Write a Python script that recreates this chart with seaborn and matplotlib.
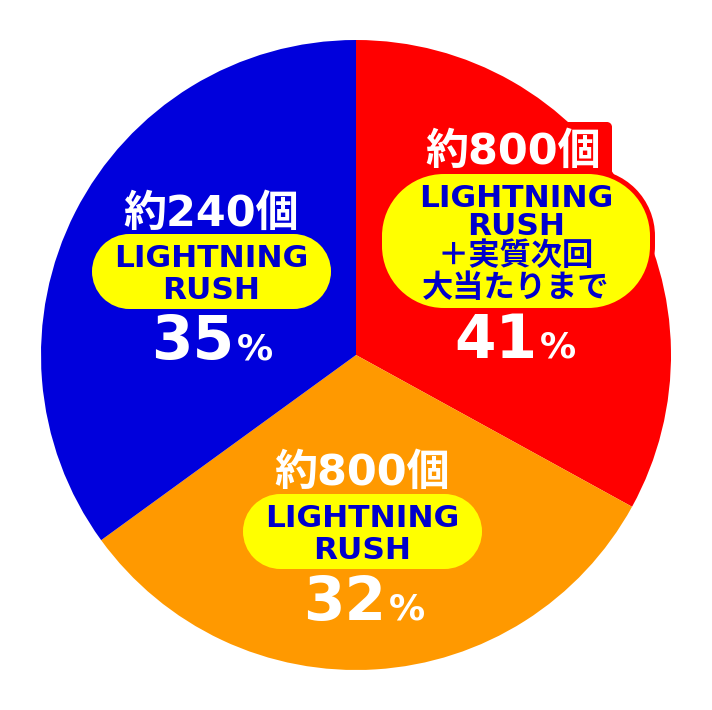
import matplotlib
matplotlib.use("Agg")
import matplotlib.pyplot as plt
from matplotlib.patches import PathPatch
from matplotlib.path import Path
import seaborn as sns

# ------------------------------------------------------------------
# Données
# ------------------------------------------------------------------
# ordre : rouge (haut-droite), orange (bas), bleu (gauche), sens horaire depuis 12h
parts = [33, 32, 35]                       # taille des secteurs dessinés
pourcentages = ["41", "32", "35"]          # texte affiché
nombres = ["約800個", "約800個", "約240個"]
etiquettes = [
    ["LIGHTNING", "RUSH", "＋実質次回", "大当たりまで"],
    ["LIGHTNING", "RUSH"],
    ["LIGHTNING", "RUSH"],
]
couleurs = ["#FF0000", "#FF9900", "#0000DC"]

# ------------------------------------------------------------------
# Mise en page (pixels, y compté depuis le haut)
# ------------------------------------------------------------------
W, H = 712, 710
CENTRE = (356, 355)
RAYON = 315
JAUNE = "#FFFF00"
BLEU_TXT = "#0000CC"
POLICE = ["DejaVu Sans", "Noto Sans CJK JP"]

# par secteur : x du titre, baseline titre, bulle jaune (x0, y0, x1, y1, arrondi),
# baselines des lignes, x et baseline du pourcentage
dispo = [
    dict(cx=513, titre_y=164, boite=(382, 174, 650, 308, 62),
         lignes_y=[207, 235, 265, 297], pct_x=515, pct_y=358),
    dict(cx=362, titre_y=485, boite=(243, 494, 482, 569, 37.5),
         lignes_y=[527, 559], pct_x=364, pct_y=620),
    dict(cx=211, titre_y=226, boite=(92, 234, 331, 309, 37.5),
         lignes_y=[267, 299], pct_x=212, pct_y=359),
]


def py(y):
    return H - y


def rect_arrondi(x0, y0, x1, y1, r, **kw):
    # rectangle à coins en arcs de cercle (coordonnées image, y vers le bas)
    x0, x1 = float(x0), float(x1)
    yb, yh = py(y1), py(y0)
    coins = [(x1 - r, yb + r, 270, 360), (x1 - r, yh - r, 0, 90),
             (x0 + r, yh - r, 90, 180), (x0 + r, yb + r, 180, 270)]
    verts, codes = [], []
    for cx, cy, a1, a2 in coins:
        arc = Path.arc(a1, a2)
        c = list(arc.codes)
        if verts:
            c[0] = Path.LINETO
        verts.extend((arc.vertices * r + [cx, cy]).tolist())
        codes.extend(c)
    verts.append(verts[0])
    codes.append(Path.CLOSEPOLY)
    return PathPatch(Path(verts, codes), **kw)


sns.set_theme(style="white")
plt.rcParams["font.family"] = POLICE

fig = plt.figure(figsize=(W / 100, H / 100), dpi=100)
ax = fig.add_axes([0, 0, 1, 1])

ax.pie(parts, colors=couleurs, startangle=90, counterclock=False,
       center=(CENTRE[0], py(CENTRE[1])), radius=RAYON,
       wedgeprops=dict(linewidth=0, antialiased=True))

for i, d in enumerate(dispo):
    x0, y0, x1, y1, r = d["boite"]

    # secteur rouge : cartouche rouge derrière le titre et bord rouge autour de la bulle
    if i == 0:
        ax.add_patch(rect_arrondi(415, 122, 612, 180, 5, fc=couleurs[0], ec="none", zorder=3))
        m = 5
        ax.add_patch(rect_arrondi(x0 - m, y0 - m, x1 + m, y1 + m, r + m,
                                  fc=couleurs[0], ec="none", zorder=3))

    ax.add_patch(rect_arrondi(x0, y0, x1, y1, r, fc=JAUNE, ec="none", zorder=4))

    cx_boite = (x0 + x1) / 2
    for ligne, yb in zip(etiquettes[i], d["lignes_y"]):
        ax.text(cx_boite, py(yb), ligne, ha="center", va="baseline",
                fontsize=22.5, fontweight="bold", color=BLEU_TXT, zorder=5)

    ax.text(d["cx"], py(d["titre_y"]), nombres[i], ha="center", va="baseline",
            fontsize=31, fontweight="bold", color="white", zorder=5)

    ax.text(d["pct_x"] + 22, py(d["pct_y"]), pourcentages[i], ha="right", va="baseline",
            fontsize=43, fontweight="bold", color="white", zorder=5)
    ax.text(d["pct_x"] + 25, py(d["pct_y"]), "%", ha="left", va="baseline",
            fontsize=26, fontweight="bold", color="white", zorder=5)

ax.set_xlim(0, W)
ax.set_ylim(0, H)
ax.set_aspect("equal")
ax.axis("off")

fig.savefig("out.png", dpi=100, facecolor="white")
